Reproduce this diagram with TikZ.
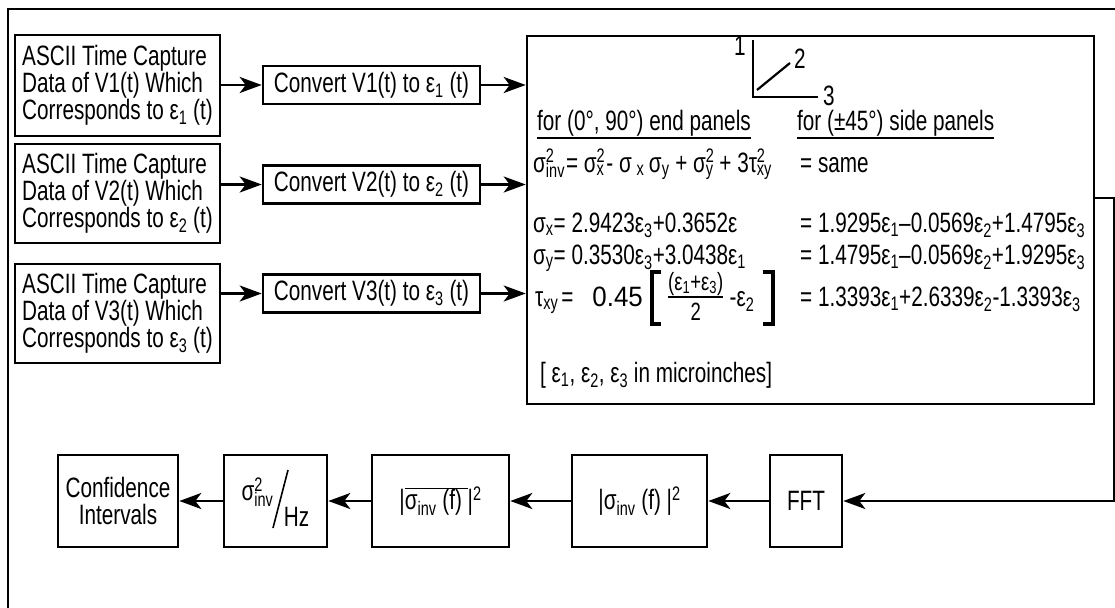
\documentclass[tikz,border=0pt]{standalone}
\usepackage{fontspec}
\setmainfont{Liberation Sans}[FakeStretch=0.74]
\usetikzlibrary{arrows.meta,calc}
% text-mode sub/superscripts in the running font
\newcommand\lo[1]{\textsubscript{#1}}
\newcommand\hi[1]{\textsuperscript{#1}}
\newcommand\hilo[2]{\rlap{\textsuperscript{#1}}\textsubscript{#2}}
\newcommand\ep[1]{ε\lo{#1}}
\begin{document}
\begin{tikzpicture}[x=1pt,y=-1pt,
  every node/.style={font=\fontsize{28}{27}\selectfont},
  box/.style={draw, line width=2.6pt, inner sep=0pt},
  srcbox/.style={box, minimum width=205pt, align=left},
  cvbox/.style={box, minimum width=217pt, minimum height=38pt},
  chain/.style={box, minimum height=92pt},
  arr/.style={line width=2.6pt, -{Stealth[length=22pt,width=16pt,inset=6pt]}},
  wire/.style={line width=2.6pt},
  brk/.style={line width=4pt, line join=miter},
  txt/.style={inner sep=0pt, anchor=base west}]
\useasboundingbox (0,0) rectangle (1115,607);
\clip (0,0) rectangle (1115,607);
\fill[white] (0,0) rectangle (1115,607);

% outer frame
\draw[wire] (8,620) -- (8,9) -- (1130,9);

% raw data sources
\node[srcbox, minimum height=101pt] (src1) at (117.5,85.5)
  {ASCII Time Capture\\Data of V1(t) Which\\Corresponds to \ep1 (t)};
\node[srcbox, minimum height=99pt] (src2) at (117.5,193.5)
  {ASCII Time Capture\\Data of V2(t) Which\\Corresponds to \ep2 (t)};
\node[srcbox, minimum height=99pt] (src3) at (117.5,313.5)
  {ASCII Time Capture\\Data of V3(t) Which\\Corresponds to \ep3 (t)};

% voltage to strain conversion
\node[cvbox] (cv1) at (371.5,85) {Convert V1(t) to \ep1 (t)};
\node[cvbox] (cv2) at (371.5,184.5) {Convert V2(t) to \ep2 (t)};
\node[cvbox] (cv3) at (371.5,293.5) {Convert V3(t) to \ep3 (t)};

% stress computation panel
\node[box, minimum width=567pt, minimum height=368pt] (big) at (810.5,220) {};

% rosette axes
\draw[line width=2.2pt] (753,40) -- (753,97) -- (818,97);
\draw[line width=2.2pt] (757,90) -- (790,63);
\node[txt] (ax1) at (734,56) {1};
\node[txt] (ax2) at (794,69) {2};
\node[txt] (ax3) at (823,106) {3};

\node[txt] (hdA) at (537,131) {for (0°, 90°) end panels};
\node[txt] (hdB) at (797,131) {for (±45°) side panels};
\draw[line width=2.4pt] ($(hdA.base west)+(0,7)$) -- ($(hdA.base east)+(0,7)$);
\draw[line width=2.4pt] ($(hdB.base west)+(0,7)$) -- ($(hdB.base east)+(0,7)$);

\node[txt] (inv) at (533,172) {σ\hilo{2}{inv}\kern1pt= σ\hilo{2}{x}\kern2pt - σ\,\lo{x}\,σ\lo{y} + σ\hilo{2}{y} + 3τ\hilo{2}{xy}};
\node[txt] (same) at (800,172) {= same};

\node[txt] (sx) at (533,232) {σ\lo{x}= 2.9423\ep3+0.3652ε};
\node[txt] (sxr) at (800,232) {= 1.9295\ep1–0.0569\ep2+1.4795\ep3};
\node[txt] (sy) at (533,264) {σ\lo{y}= 0.3530\ep3+3.0438\ep1};
\node[txt] (syr) at (800,264) {= 1.4795\ep1–0.0569\ep2+1.9295\ep3};

% shear strain line with bracketed fraction
\node[txt] (tau) at (535,306) {τ\lo{xy}\kern3pt=};
\node[inner sep=0pt, anchor=base east] (c45) at (643,306) {\scalebox{1.25}[1]{0.45}};
\node[txt, font=\fontsize{25}{25}\selectfont] (num) at (668,290) {(\ep1+\ep3)};
\node[inner sep=0pt, anchor=base, font=\fontsize{25}{25}\selectfont] (den) at ($(num.base)+(0,30)$) {2};
\draw[line width=1.8pt] (num.west |- 0,297) -- (num.east |- 0,297);
\node[txt] (mns) at ($(num.east |- 0,306)+(6,0)$) {-\ep2};
\draw[brk] (661,272) -- (652,272) -- (652,324) -- (661,324);
\draw[brk] ($(mns.east |- 0,272)+(8,0)$) -- ++(10,0) coordinate (rb) -- (rb |- 0,324) -- ++(-10,0);
\node[txt] (tar) at (800,306) {= 1.3393\ep1+2.6339\ep2-1.3393\ep3};

\node[txt] (unit) at (540,382) {[ \ep1, \ep2, \ep3 in microinches]};

% spectral processing chain
\node[chain, minimum width=120pt, align=center] (conf) at (118,501) {Confidence\\Intervals};
\node[chain, minimum width=103pt] (hz) at (275.5,501) {};
\node[inner sep=0pt] (hzt) at ($(hz.center)+(-18,-9)$) {σ\hilo{2}{inv}};
\node[inner sep=0pt] (hzb) at ($(hz.center)+(21,16)$) {Hz};
\draw[line width=1.6pt] ($(hz.center)+(12.5,-31)$) -- ($(hz.center)+(-2.5,27)$);
\node[chain, minimum width=137pt] (ovl) at (440.5,501) {|$\overline{\hbox{σ\lo{inv} (f) }}$|\hi{2}};
\node[chain, minimum width=135pt] (mag) at (639.5,501) {|σ\lo{inv} (f) |\hi{2}};
\node[chain, minimum width=72pt] (fft) at (806,501) {FFT};

% connectors
\foreach \i in {1,2,3} {
  \draw[arr] (cv\i.west -| src\i.east) -- (cv\i.west);
  \draw[arr] (cv\i.east) -- (cv\i.east -| big.west);
}
\coordinate (turn) at (1114,198);
\draw[arr] (turn -| big.east) -- (turn) -- (turn |- fft.east) -- (fft.east);
\draw[arr] (fft.west) -- (mag.east);
\draw[arr] (mag.west) -- (ovl.east);
\draw[arr] (ovl.west) -- (hz.east);
\draw[arr] (hz.west) -- (conf.east);
\end{tikzpicture}
\end{document}
